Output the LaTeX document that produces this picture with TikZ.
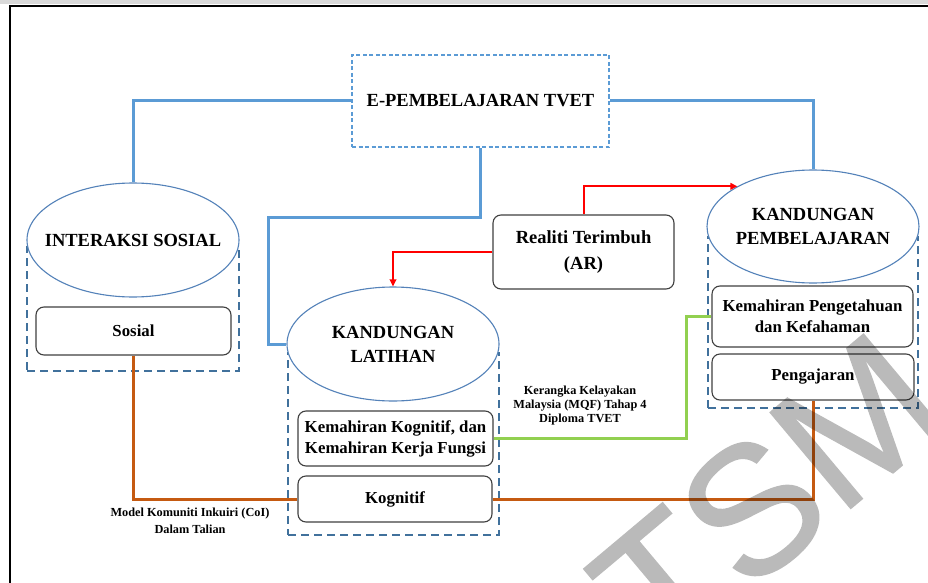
\documentclass[tikz,border=0pt]{standalone}
\usepackage{fontspec}
\setmainfont{Liberation Serif}
\newfontfamily\wmfont[FakeBold=0.8]{Liberation Sans}
\usetikzlibrary{shapes.geometric,arrows.meta}
\definecolor{lineblue}{RGB}{91,155,213}
\definecolor{dashblue}{RGB}{65,113,156}
\definecolor{ellblue}{RGB}{84,130,185}
\definecolor{orangeline}{RGB}{197,90,17}
\definecolor{greenline}{RGB}{146,208,80}
\definecolor{boxgray}{RGB}{64,64,64}
\definecolor{redline}{RGB}{255,0,0}
\begin{document}
\begin{tikzpicture}[x=1pt,y=-1pt,
  ell/.style={ellipse, draw=ellblue, line width=1.1pt, fill=white, minimum width=212pt, minimum height=114pt, inner sep=0pt},
  elltext/.style={font=\fontsize{18.5}{24}\selectfont\bfseries, align=center, inner sep=0pt},
  cont/.style={draw=dashblue, line width=1.8pt, dash pattern=on 8pt off 5pt, inner sep=0pt},
  rbox/.style={draw=boxgray, line width=1.1pt, rounded corners=8pt, fill=white, inner sep=0pt, font=\fontsize{16.8}{21}\selectfont\bfseries, align=center},
  blueconn/.style={draw=lineblue, line width=3pt},
  orangeconn/.style={draw=orangeline, line width=3pt},
  greenconn/.style={draw=greenline, line width=3pt},
  redconn/.style={draw=redline, line width=2pt, -{Triangle[length=7pt,width=6.5pt]}},
  smalllabel/.style={font=\fontsize{12.3}{14}\selectfont\bfseries, align=center, inner sep=0pt}
]
\useasboundingbox (0,0) rectangle (928,583);
\fill[white] (0,0) rectangle (928,583);
% frame
\fill[black!15] (0,0) rectangle (928,4.5);
\draw[line width=2.5pt] (10,600) -- (10,6) -- (940,6);

% containers
\node[cont, minimum width=212pt, minimum height=124pt] (c1) at (133,309) {};
\node[cont, minimum width=211pt, minimum height=182pt] (c2) at (393.5,444) {};
\node[cont, minimum width=210pt, minimum height=171pt] (c3) at (813,322.5) {};

% ellipses
\node[ell] (is) at (133,240) {};
\node[elltext] (ist) at (is) {INTERAKSI SOSIAL};
\node[ell] (kl) at (393,344) {};
\node[elltext] (klt) at (kl) {KANDUNGAN\\LATIHAN};
\node[ell, minimum height=113pt] (kp) at (813,226.5) {};
\node[elltext] (kpt) at (kp) {KANDUNGAN\\PEMBELAJARAN};

% title
\node[draw=lineblue, line width=1.8pt, dash pattern=on 4pt off 2.5pt, minimum width=257pt, minimum height=92pt, inner sep=0pt, font=\fontsize{18.5}{22}\selectfont\bfseries] (title) at (480.5,101) {E-PEMBELAJARAN TVET};

% boxes
\node[rbox, minimum width=195pt, minimum height=48pt] (sos) at (133.5,331) {Sosial};
\node[rbox, minimum width=195pt, minimum height=55pt] (kk) at (395.5,438.5) {Kemahiran Kognitif, dan\\Kemahiran Kerja Fungsi};
\node[rbox, minimum width=194pt, minimum height=46pt] (kog) at (395,499) {Kognitif};
\node[rbox, minimum width=181pt, minimum height=74pt, font=\fontsize{18.5}{26}\selectfont\bfseries] (ar) at (583.5,252) {Realiti Terimbuh\\(AR)};
\node[rbox, minimum width=201pt, minimum height=61pt] (kpf) at (812.5,316.5) {Kemahiran Pengetahuan\\dan Kefahaman};
\node[rbox, minimum width=202pt, minimum height=46pt] (peng) at (813,377) {Pengajaran};

% connectors
\draw[blueconn] (title.west) -| (is.north);
\draw[blueconn] (title.east) -| (kp.north);
\coordinate (bj) at (268,217);
\draw[blueconn] (title.south) |- (bj) |- (kl.west);
\draw[redconn] (ar.north) |- (kp.152);
\draw[redconn] (ar.west) -| (kl.north);
\draw[orangeconn] (sos.south) |- (kog.west);
\draw[orangeconn] (kog.east) -| (peng.south);
\coordinate (gj) at (686,316.5);
\draw[greenconn] (kk.east) -| (gj) -- (kpf.west);

% labels
\node[smalllabel] (mqf) at (580,406) {Kerangka Kelayakan\\Malaysia (MQF) Tahap 4\\Diploma TVET};
\node[smalllabel, font=\fontsize{12.3}{17}\selectfont\bfseries] (col) at (190,521) {Model Komuniti Inkuiri (CoI)\\Dalam Talian};

% watermark
\begin{scope}[transparency group, opacity=0.27]
\node[rotate=40, text=black, inner sep=0pt, font=\fontsize{182}{182}\selectfont\wmfont] (wm) at (768,496) {TSM};
\end{scope}
\end{tikzpicture}
\end{document}
